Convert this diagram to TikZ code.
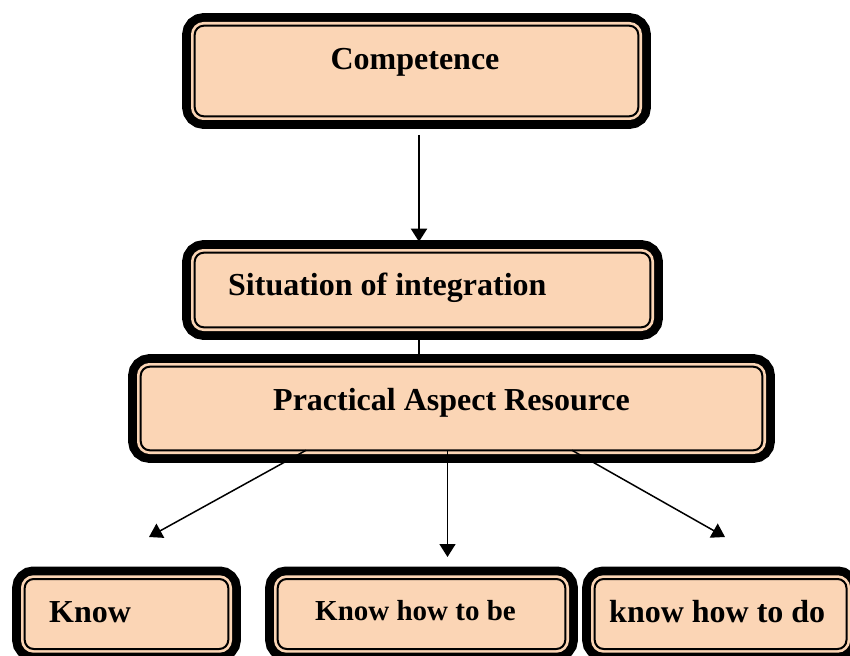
\documentclass[tikz,border=0pt]{standalone}
\usepackage{fontspec}
\setmainfont{Liberation Serif}
\usepackage{tikz}
\usetikzlibrary{arrows.meta, positioning}
\usepackage{xcolor}
\definecolor{peach}{HTML}{FBD5B5}

\begin{document}
\begin{tikzpicture}[x=1pt, y=-1pt,
	framebox/.style={inner sep=0pt, outer sep=0pt, rounded corners=9pt, fill=peach, draw=black, line width=2pt,
		preaction={draw=black, line width=25pt}, preaction={draw=peach, line width=7.4pt}},
	boxtext/.style={inner sep=0pt, font=\fontsize{32}{37}\selectfont\bfseries},
	arr/.style={-{Triangle[length=13pt, width=16pt]}}]
	\clip (0,0) rectangle (850,655);
	\fill[white] (0,0) rectangle (850,655);
	\path (416.5, 71) node[framebox, minimum width=443.6pt, minimum height=90.6pt] (comp) {}
	(422.5, 290) node[framebox, minimum width=455.6pt, minimum height=74.6pt] (sit) {}
	(451.5, 408.5) node[framebox, minimum width=621.6pt, minimum height=83.6pt] (prac) {}
	(126.5, 614) node[framebox, minimum width=203.6pt, minimum height=70pt] (know) {}
	(421.5, 614) node[framebox, minimum width=287.6pt, minimum height=70pt] (knowbe) {}
	(720.6, 614) node[framebox, minimum width=251.8pt, minimum height=70pt] (knowdo) {};
	
	\path (415, 70) node[boxtext, anchor=base] (comptext) {Competence}
	(228, 295) node[boxtext, anchor=base west] (sittext) {Situation of integration}
	(451.5, 410) node[boxtext, anchor=base] (practext) {Practical Aspect Resource}
	(49, 622) node[boxtext, anchor=base west] (knowtext) {Know}
	(415.5, 620) node[boxtext, anchor=base, font=\fontsize{29}{34}\selectfont\bfseries] (knowbetext) {Know how to be}
	(609, 622) node[boxtext, anchor=base west] (knowdotext) {know how to do};
	
	\coordinate (tipknow) at (149, 537);
	\coordinate (tipbe) at (447.5, 557);
	\coordinate (tipdo) at (725, 537);
	
	\draw[arr, line width=2pt, shorten <=18.7pt, shorten >=11pt] ([xshift=2.5pt]comp.south) -- ([xshift=2.5pt]comp.south |- sit.north);
	\draw[line width=2pt, shorten <=10pt, shorten >=10pt] ([xshift=-3.5pt]sit.south) -- ([xshift=-3.5pt]sit.south |- prac.north);
	\draw[arr, line width=1.5pt] ([xshift=-145.5pt]prac.south) -- (tipknow);
	\draw[arr, line width=1.5pt] ([xshift=-4pt]prac.south) -- (tipbe);
	\draw[arr, line width=1.5pt] ([xshift=120.5pt]prac.south) -- (tipdo);
\end{tikzpicture}
\end{document}
